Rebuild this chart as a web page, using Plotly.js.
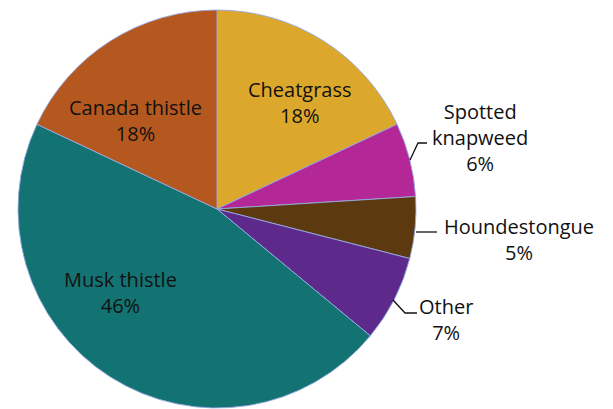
<!DOCTYPE html>
<html><head><meta charset="utf-8">
<script src="https://cdn.plot.ly/plotly-3.0.1.min.js"></script>
<style>html,body{margin:0;padding:0;background:#fff}#c{width:613px;height:409px}</style>
</head><body><div id="c"></div>
<script>
const categories = ["Cheatgrass", "Spotted knapweed", "Houndestongue", "Other", "Musk thistle", "Canada thistle"];
const values = [18, 6, 5, 7, 46, 18];
const labelText = ["Cheatgrass", "Spotted<br>knapweed", "Houndestongue", "Other", "Musk thistle", "Canada thistle"];
const colors = ["#DCA82C", "#B42796", "#5C390F", "#5D2A8C", "#137372", "#B5581F"];
// label positions in pixels (center x, middle y)
const labelPos = [[300,102.5],[480,137.5],[519,239.5],[446,319],[120,292.5],[135,120.5]];
const W = 613, H = 409;
const px = x => x / W, py = y => 1 - y / H;

const annotations = categories.map((c, i) => ({
  xref: 'paper', yref: 'paper',
  x: px(labelPos[i][0]), y: py(labelPos[i][1]),
  xanchor: 'center', yanchor: 'middle', showarrow: false, align: 'center',
  text: labelText[i] + '<br>' + values[i] + '%',
  font: {family: 'Open Sans, Noto Sans, sans-serif', size: 20, color: '#111'}
}));

const leader = pts => ({
  type: 'path', xref: 'paper', yref: 'paper',
  path: pts.map((p, j) => (j ? 'L' : 'M') + px(p[0]) + ',' + py(p[1])).join(' '),
  line: {color: '#111', width: 1.3}
});

const data = [{
  type: 'pie',
  labels: categories,
  values: values,
  sort: false,
  direction: 'clockwise',
  rotation: 0,
  textinfo: 'none',
  hoverinfo: 'label+percent',
  marker: {colors: colors, line: {color: 'rgba(150,170,225,0.9)', width: 1}},
  domain: {x: [18 / W, 416 / W], y: [py(408), py(10)]},
  showlegend: false
}];

const layout = {
  width: W, height: H,
  margin: {l: 0, r: 0, t: 0, b: 0},
  paper_bgcolor: '#fff',
  showlegend: false,
  annotations: annotations,
  shapes: [
    leader([[410,160],[418,143],[427,143]]),
    leader([[416,232],[437,232]]),
    leader([[393,300],[405,313],[417,313]])
  ]
};
Plotly.newPlot('c', data, layout, {displayModeBar: false, staticPlot: true});
</script></body></html>
